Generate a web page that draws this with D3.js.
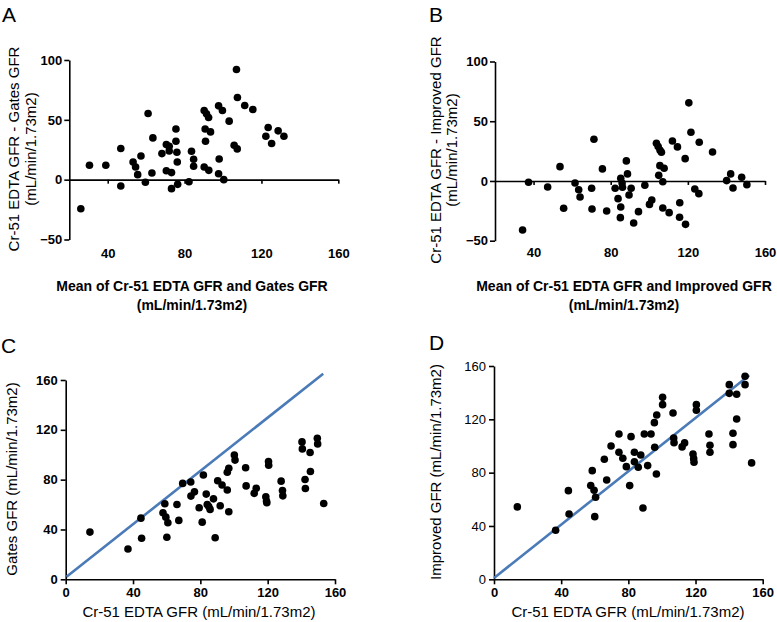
<!DOCTYPE html>
<html>
<head>
<meta charset="utf-8">
<script src="https://cdn.jsdelivr.net/npm/d3@7"></script>
<style>
  html, body { margin: 0; padding: 0; background: #fff; }
  svg { display: block; }
  text { font-family: "Liberation Sans", Arial, Helvetica, sans-serif; fill: #000; }
</style>
</head>
<body>
<svg id="chart" width="777" height="622"></svg>
<script>
// ---- Panel A: Bland-Altman, Cr-51 EDTA vs Gates ----
const aX = [26.0,30.5,39.0,46.8,46.8,53.2,54.5,55.6,57.3,59.6,61.0,63.0,63.5,68.2,70.5,70.5,72.0,72.0,73.2,73.2,75.5,75.5,76.0,76.2,76.4,82.3,83.6,84.7,84.7,90.2,90.7,90.9,90.2,91.4,92.5,92.6,93.5,97.7,99.7,98.0,97.7,100.4,103.2,105.8,107.4,107.0,107.5,111.3,115.5,123.5,122.3,125.3,128.7,131.7];
const aY = [-24.3,12.0,12.0,26.0,-5.3,14.8,10.6,4.2,19.8,-2.2,55.3,5.6,34.9,21.8,29.3,7.5,27.9,24.0,5.9,-7.5,42.4,32.1,22.9,14.8,-3.9,-1.7,23.7,17.0,11.2,57.8,42.4,32.1,10.6,55.0,51.9,7.8,39.9,61.7,57.8,17.3,5.0,0,48.9,28.8,25.7,92.1,68.7,62.0,58.6,43.6,36.3,30.2,40.8,36.3];

// ---- Panel B: Bland-Altman, Cr-51 EDTA vs Improved ----
const bX = [34.3,37.4,47.3,53.7,55.6,61.5,63.4,64.1,70.1,70.3,71.3,75.7,77.9,82.3,83.8,85.2,85.0,85.2,85.9,86.1,88.1,88.7,90.6,89.5,91.9,94.4,97.7,100.1,101.3,103.7,104.6,105.6,106.3,105.5,107.7,104.9,107.0,107.0,110.3,112.0,114.6,115.8,115.7,118.6,118.8,120.5,121.6,123.6,125.7,125.9,132.8,140.1,142.2,143.4,147.9,150.6];
const bY = [-41.1,-1.1,-5.0,12.0,-22.9,-1.7,-7.3,-13.4,-6.1,-23.5,34.9,10.1,-25.1,-6.1,-14.8,-21.8,-30.7,2.2,-1.7,-5.3,16.8,5.9,-6.1,-11.7,-35.2,-25.7,-3.6,-19.6,-15.9,31.6,28.8,25.7,24.0,12.8,10.6,4.7,-0.6,-22.6,-26.5,33.5,28.5,-18.2,-30.4,18.7,-36.3,65.4,40.8,-6.7,-10.6,32.4,24.3,0.3,5.9,-5.9,3.1,-3.1];

// ---- Panel C: Gates GFR vs Cr-51 EDTA GFR ----
const cX = [14.4,37.0,44.7,45.1,58.9,57.8,59.5,60.7,60.1,66.1,67.2,69.5,74.3,74.4,76.5,79.3,81.8,81.1,83.5,84.1,85.8,85.0,87.8,88.8,90.3,91.8,92.9,96.0,96.9,96.0,96.9,100.2,100.6,106.9,107.2,112.0,113.2,118.9,119.3,119.5,120.5,120.6,128.0,128.8,129.0,140.4,140.6,142.2,142.4,145.2,145.4,149.5,149.7,153.3];
const cY = [37.9,24.3,49.1,32.9,60.6,53.4,49.9,45.4,33.7,60.1,47.3,77.0,78.1,66.8,70.2,57.4,83.7,45.9,68.4,60.1,56.1,58.5,64.6,33.4,79.1,59.0,75.7,71.7,54.2,85.9,89.1,99.8,95.7,89.5,75.0,69.0,73.0,66.2,62.8,61.4,94.6,91.6,78.8,71.3,67.0,110.3,104.7,80.1,72.9,101.8,86.5,113.2,108.7,60.9];
const cLineX = [0.5, 153];
const cLineY = [2, 165];

// ---- Panel D: Improved GFR vs Cr-51 EDTA GFR ----
const dX = [13.9,36.7,44.3,44.7,58.5,57.6,59.6,60.5,60.0,65.7,67.1,69.7,74.4,74.4,76.7,78.8,81.6,80.8,83.6,83.6,85.9,87.4,88.7,89.5,91.5,93.5,95.7,95.5,96.9,96.7,100.4,100.4,106.6,107.0,107.2,112.0,113.5,118.5,118.9,119.1,120.5,120.5,128.0,128.6,128.6,140.1,140.1,142.3,142.3,144.5,144.5,149.5,149.5,153.4];
const dY = [54.3,36.8,66.5,49.0,81.5,70.3,66.8,61.5,47.0,90.0,74.5,100.0,109.0,95.3,90.8,84.5,107.0,70.3,95.3,88.2,84.0,93.2,53.5,109.0,85.3,109.0,99.0,117.5,123.3,79.0,136.5,131.0,124.8,106.0,102.5,99.3,102.3,94.0,90.5,87.8,131.0,126.8,109.0,100.5,95.3,146.0,139.5,109.5,101.0,138.8,120.3,152.3,146.0,87.3];
const dLineX = [0, 152];
const dLineY = [1, 153];

// ---- tick labels ----
const baTicksY = [100, 50, 0, -50];
const baTicksX = [40, 80, 120, 160];
const gfrTicks = [0, 40, 80, 120, 160];

const svg = d3.select("#chart");
const R = 3.8;
const LINE_BLUE = "#4a7ab8";

function styleAxis(g, bold) {
  g.selectAll(".domain").attr("stroke", "#000").attr("stroke-width", 1.6);
  g.selectAll(".tick line").attr("stroke", "#000").attr("stroke-width", 1.6);
  g.selectAll(".tick text")
    .style("font-family", '"Liberation Sans", Arial, sans-serif')
    .style("font-size", "13px")
    .style("font-weight", bold ? "bold" : "normal")
    .attr("fill", "#000");
}

function dots(xs, ys, x, y) {
  svg.append("g").selectAll("circle")
    .data(xs.map((v, i) => [v, ys[i]]))
    .join("circle")
    .attr("cx", d => x(d[0]))
    .attr("cy", d => y(d[1]))
    .attr("r", R)
    .attr("fill", "#000");
}

function yTitle(lines, cx, cy, bold, size) {
  lines.forEach((t, i) => {
    svg.append("text")
      .attr("transform", `translate(${cx[i]},${cy}) rotate(-90)`)
      .attr("text-anchor", "middle")
      .attr("dominant-baseline", "middle")
      .style("font-size", size + "px")
      .style("font-weight", bold ? "bold" : "normal")
      .text(t);
  });
}

function xTitle(lines, cx, ys, bold, size) {
  lines.forEach((t, i) => {
    svg.append("text")
      .attr("x", cx).attr("y", ys[i])
      .attr("text-anchor", "middle")
      .attr("dominant-baseline", "middle")
      .style("font-size", size + "px")
      .style("font-weight", bold ? "bold" : "normal")
      .text(t);
  });
}

function panelLabel(t, x, y) {
  svg.append("text").attr("x", x).attr("y", y)
    .style("font-size", "21px").text(t);
}

// Bland-Altman panel
function baPanel(xs, ys, x0, x1, yTop, yBot, labelY) {
  const x = d3.scaleLinear().domain([20, 160]).range([x0, x1]);
  const y = d3.scaleLinear().domain([-50, 100]).range([yBot, yTop]);
  const gy = svg.append("g").attr("transform", `translate(${x0},0)`)
    .call(d3.axisLeft(y).tickValues(baTicksY).tickSize(5).tickSizeOuter(0).tickPadding(2));
  styleAxis(gy, true);
  const gx = svg.append("g").attr("transform", `translate(0,${y(0)})`)
    .call(d3.axisBottom(x).tickValues(baTicksX).tickSize(4).tickSizeOuter(0).tickFormat(""));
  styleAxis(gx, true);
  const gl = svg.append("g").attr("transform", `translate(0,${labelY})`)
    .call(d3.axisBottom(x).tickValues(baTicksX).tickSize(0).tickSizeOuter(0).tickPadding(0));
  gl.select(".domain").remove();
  gl.selectAll(".tick text").attr("dy", "0.35em");
  styleAxis(gl, true);
  dots(xs, ys, x, y);
}

function gfrPanel(xs, ys, lx, ly, x0, x1, yTop, yBot, yBold) {
  const x = d3.scaleLinear().domain([0, 160]).range([x0, x1]);
  const y = d3.scaleLinear().domain([0, 160]).range([yBot, yTop]);
  const gy = svg.append("g").attr("transform", `translate(${x0},0)`)
    .call(d3.axisLeft(y).tickValues(gfrTicks).tickSize(5).tickSizeOuter(0).tickPadding(3));
  styleAxis(gy, yBold);
  const gx = svg.append("g").attr("transform", `translate(0,${yBot})`)
    .call(d3.axisBottom(x).tickValues(gfrTicks).tickSize(5).tickSizeOuter(0).tickPadding(3));
  styleAxis(gx, true);
  svg.append("path")
    .datum(lx.map((v, i) => [v, ly[i]]))
    .attr("d", d3.line().x(d => x(d[0])).y(d => y(d[1])))
    .attr("stroke", LINE_BLUE).attr("stroke-width", 2.6).attr("fill", "none");
  dots(xs, ys, x, y);
}

// Panel A
baPanel(aX, aY, 69.3, 338.3, 60, 239.5, 253.5);
panelLabel("A", 2, 22);
yTitle(["Cr-51 EDTA GFR - Gates GFR", "(mL/min/1.73m2)"], [15, 32], 149, false, 15);
xTitle(["Mean of Cr-51 EDTA GFR and Gates GFR", "(mL/min/1.73m2)"], 192, [287, 306], true, 14);

// Panel B
baPanel(bX, bY, 495, 765, 61.5, 240.7, 252);
panelLabel("B", 429, 22);
yTitle(["Cr-51 EDTA GFR - Improved GFR", "(mL/min/1.73m2)"], [437, 453], 150, false, 15);
xTitle(["Mean of Cr-51 EDTA GFR and Improved GFR", "(mL/min/1.73m2)"], 624, [287, 306], true, 14);

// Panel C
gfrPanel(cX, cY, cLineX, cLineY, 65.7, 335, 380, 579.3, true);
panelLabel("C", 1, 353);
yTitle(["Gates GFR (mL/min/1.73m2)"], [13], 479, false, 15);
xTitle(["Cr-51 EDTA GFR (mL/min/1.73m2)"], 199, [613.5], false, 15);

// Panel D
gfrPanel(dX, dY, dLineX, dLineY, 494, 762.7, 366, 579.3, false);
panelLabel("D", 429, 350);
yTitle(["Improved GFR (mL/min/1.73m2)"], [437], 472, false, 15);
xTitle(["Cr-51 EDTA GFR (mL/min/1.73m2)"], 628, [613.5], false, 15);
</script>
</body>
</html>
